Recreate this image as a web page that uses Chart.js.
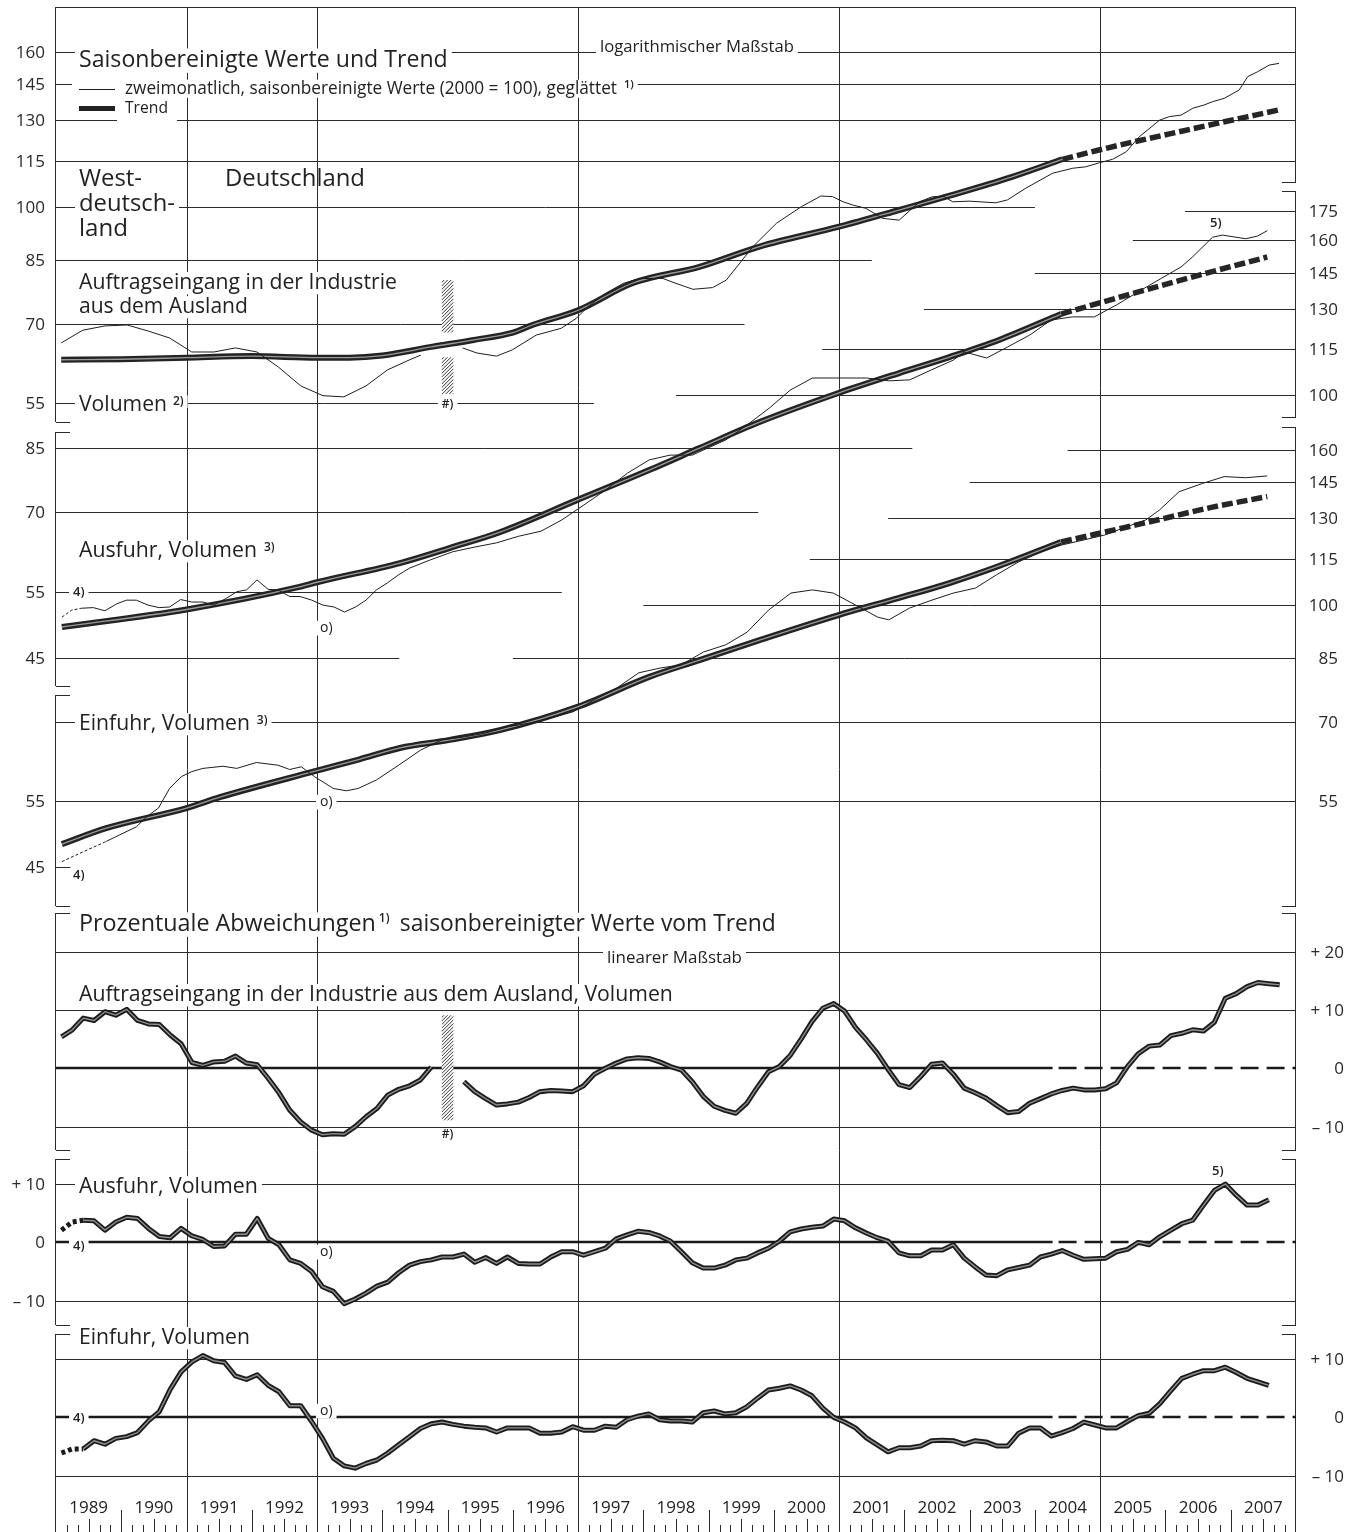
<!DOCTYPE html>
<html>
<head>
<meta charset="utf-8">
<script src="https://cdn.jsdelivr.net/npm/chart.js@4.4.1/dist/chart.umd.min.js"></script>
<style>
  html, body { margin: 0; padding: 0; background: #fff; }
  #wrap { width: 1363px; height: 1532px; }
</style>
</head>
<body>
<div id="wrap"><canvas id="c" width="1363" height="1532"></canvas></div>
<script>
// ---- data ----
// bi-monthly values, first point = Jan/Feb 1989
const ordersDev = [5.4, 6.6, 8.6, 8.2, 9.7, 9.1, 10.1, 8.2, 7.6, 7.5, 5.7, 4.2, 1.0, 0.5, 1.1, 1.2, 2.1, 0.9, 0.6, -1.7,
  -4.2, -7.2, -9.2, -10.6, -11.4, -11.2, -11.3, -10.0, -8.3, -6.9, -4.6, -3.6, -3.0, -2.0, 0.2, null, null, -2.3, -4.0, -5.2,
  -6.3, -6.1, -5.8, -5.0, -4.0, -3.8, -3.9, -4.0, -3.0, -1.0, 0.0, 0.9, 1.6, 1.8, 1.7, 1.1, 0.3, -0.3, -2.3, -4.8,
  -6.5, -7.2, -7.7, -6.0, -3.2, -0.6, 0.3, 2.2, 5.0, 8.0, 10.3, 11.1, 9.8, 7.0, 4.9, 2.6, -0.2, -2.8, -3.3, -1.4,
  0.7, 0.9, -1.0, -3.4, -4.2, -5.1, -6.4, -7.6, -7.4, -6.0, -5.2, -4.4, -3.8, -3.4, -3.7, -3.7, -3.5, -2.5, 0.3, 2.5,
  3.8, 4.0, 5.6, 6.0, 6.6, 6.4, 7.9, 12.0, 12.8, 14.0, 14.7, 14.5, 14.3];
const exportsDev = [2.1, 3.5, 3.8, 3.7, 2.1, 3.5, 4.3, 4.1, 2.4, 1.0, 0.8, 2.4, 1.1, 0.5, -0.7, -0.6, 1.4, 1.4, 4.1, 0.7,
  -0.4, -3.0, -3.6, -5.0, -7.6, -8.4, -10.5, -9.7, -8.7, -7.5, -6.8, -5.2, -3.9, -3.3, -3.0, -2.5, -2.5, -2.0, -3.4, -2.6,
  -3.6, -2.5, -3.6, -3.7, -3.7, -2.5, -1.6, -1.6, -2.2, -1.6, -1.0, 0.6, 1.3, 1.9, 1.7, 1.1, 0.2, -1.6, -3.5, -4.4,
  -4.4, -3.9, -3.0, -2.7, -1.8, -1.0, 0.2, 1.8, 2.3, 2.6, 2.8, 4.0, 3.7, 2.5, 1.6, 0.8, 0.2, -1.8, -2.3, -2.3,
  -1.3, -1.3, -0.4, -2.7, -4.2, -5.6, -5.7, -4.7, -4.3, -3.9, -2.5, -2.0, -1.4, -2.2, -2.9, -2.8, -2.7, -1.6, -1.2, 0.0,
  -0.4, 1.0, 2.1, 3.2, 3.8, 6.4, 8.9, 10.0, 8.1, 6.4, 6.4, 7.3];
const importsDev = [-6.1, -5.4, -5.4, -4.0, -4.6, -3.6, -3.3, -2.6, -0.6, 1.0, 4.8, 7.8, 9.5, 10.6, 9.7, 9.4, 7.1, 6.5, 7.3, 5.5,
  4.4, 2.0, 2.0, -0.7, -3.6, -7.0, -8.3, -8.7, -7.9, -7.3, -6.1, -4.7, -3.3, -1.9, -1.1, -0.8, -1.2, -1.5, -1.7, -1.8,
  -2.5, -1.8, -1.8, -1.8, -2.7, -2.7, -2.5, -1.6, -2.2, -2.2, -1.5, -1.7, -0.4, 0.2, 0.6, -0.4, -0.6, -0.6, -0.8, 0.8,
  1.1, 0.6, 0.8, 1.8, 3.3, 4.7, 5.0, 5.4, 4.7, 3.7, 1.6, 0.0, -0.8, -1.8, -3.5, -4.7, -5.9, -5.2, -5.2, -4.9,
  -4.0, -3.9, -4.0, -4.6, -4.0, -4.2, -4.9, -4.9, -2.7, -1.8, -1.8, -3.2, -2.6, -1.9, -0.8, -1.3, -1.8, -1.8, -0.7, 0.3,
  0.7, 2.4, 4.6, 6.7, 7.4, 8.0, 8.0, 8.6, 7.7, 6.7, 6.1, 5.5];

// seasonally adjusted levels (2000 = 100), read at the line's corners
const ordersRawYears = [1989.08, 1989.41, 1989.75, 1990.09, 1990.42, 1990.74, 1991.08, 1991.42, 1991.75, 1992.08, 1992.41, 1992.75,
  1993.09, 1993.41, 1993.75, 1994.08, 1994.42, 1994.59, 1994.9, 1995.23, 1995.45, 1995.75, 1995.99, 1996.36, 1996.74, 1996.97,
  1997.15, 1997.43, 1997.69, 1997.94, 1998.30, 1998.50, 1998.76, 1999.06, 1999.27, 1999.68, 2000.04, 2000.42, 2000.72, 2000.90,
  2001.06, 2001.21, 2001.41, 2001.67, 2001.92, 2002.23, 2002.43, 2002.61, 2002.74, 2002.99, 2003.40, 2003.58, 2003.86, 2004.27,
  2004.58, 2004.78, 2004.99, 2005.19, 2005.40, 2005.60, 2005.91, 2006.06, 2006.24, 2006.42, 2006.59, 2006.72, 2006.90, 2007.13,
  2007.26, 2007.41, 2007.59, 2007.74];
const ordersRawValues = [66.1, 68.7, 69.6, 69.8, 68.5, 67.1, 64.3, 64.3, 65.1, 64.3, 61.4, 58.0,
  56.3, 56.1, 58.0, 60.9, 62.8, 63.7, null, 65.1, 64.1, 63.5, 64.7, 67.7, 69.1, 71.2,
  73.8, 76.9, 79.2, 80.4, 80.4, 79.2, 77.8, 78.2, 80.0, 88.6, 95.1, 100.0, 103.3, 103.1,
  101.5, 100.5, 99.5, 96.5, 96.0, 101.5, 103.1, 103.1, 101.5, 101.7, 101.2, 102.1, 105.8, 110.7,
  112.4, 112.9, 114.3, 115.5, 118.2, 123.7, 130.1, 131.5, 132.1, 134.9, 136.2, 137.6, 139.0, 142.6,
  148.5, 150.7, 153.8, 154.6];

const exportsRawYears = [1989.09, 1989.24, 1989.39, 1989.57, 1989.75, 1989.93, 1990.08, 1990.23, 1990.41, 1990.58, 1990.74, 1990.91,
  1991.08, 1991.25, 1991.41, 1991.61, 1991.77, 1991.92, 1992.08, 1992.25, 1992.40, 1992.58, 1992.74, 1992.92, 1993.09, 1993.26,
  1993.42, 1993.59, 1993.75, 1993.91, 1994.08, 1994.25, 1994.42, 1994.74, 1995.08, 1995.42, 1995.75, 1996.09, 1996.43, 1996.75,
  1997.09, 1997.42, 1997.76, 1998.09, 1998.41, 1998.75, 1998.92, 1999.26, 1999.59, 1999.93, 2000.25, 2000.59, 2000.91, 2001.42,
  2001.76, 2002.08, 2002.41, 2002.75, 2002.92, 2003.26, 2003.58, 2003.92, 2004.25, 2004.57, 2004.91, 2005.25, 2005.58, 2005.92,
  2006.24, 2006.42, 2006.72, 2006.87, 2007.23, 2007.41, 2007.56];
const exportsRawValues = [50.9, 52.0, 52.3, 52.4, 51.9, 53.0, 53.6, 53.6, 52.8, 52.4, 52.5, 53.7,
  53.3, 53.3, 52.8, 53.9, 55.0, 55.3, 57.0, 55.4, 55.3, 54.2, 54.2, 53.6, 52.8, 52.5,
  51.7, 52.5, 53.6, 55.3, 56.5, 57.9, 59.1, 60.6, 62.1, 63.0, 63.8, 65.1, 66.1, 68.4,
  71.6, 74.9, 78.9, 82.1, 83.3, 83.3, 84.6, 87.2, 91.3, 96.1, 101.5, 105.3, 105.3, 105.3,
  104.4, 104.7, 107.9, 111.2, 114.0, 111.9, 115.7, 120.0, 125.6, 126.8, 126.8, 131.5, 136.8, 142.3,
  147.6, 152.3, 161.5, 162.6, 160.8, 162.1, 164.8];

const importsRawYears = [1989.09, 1989.42, 1989.77, 1989.98, 1990.23, 1990.39, 1990.57, 1990.74, 1990.92, 1991.08, 1991.25, 1991.56,
  1991.77, 1992.07, 1992.40, 1992.58, 1992.76, 1992.96, 1993.25, 1993.45, 1993.63, 1993.91, 1994.25, 1994.59, 1994.91, 1995.25,
  1995.58, 1995.92, 1996.26, 1996.58, 1996.92, 1997.25, 1997.59, 1997.93, 1998.26, 1998.58, 1998.92, 1999.26, 1999.59, 1999.92,
  2000.26, 2000.59, 2000.91, 2001.25, 2001.59, 2001.76, 2002.08, 2002.42, 2002.75, 2003.09, 2003.41, 2003.75, 2004.08, 2004.41,
  2004.74, 2005.07, 2005.39, 2005.70, 2005.91, 2006.21, 2006.57, 2006.90, 2007.23, 2007.56];
const importsRawValues = [45.8, 47.2, 48.7, 49.7, 50.9, 52.5, 53.9, 57.2, 59.3, 60.2, 60.8, 61.2,
  60.8, 61.9, 61.4, 60.6, 61.1, 59.3, 57.2, 56.8, 57.2, 58.7, 61.4, 64.3, 66.3, 66.9,
  67.7, 69.0, 69.8, 70.9, 72.2, 74.9, 77.6, 81.3, 82.5, 83.3, 86.6, 88.5, 92.0, 98.4,
  103.6, 104.6, 103.6, 99.9, 96.3, 95.5, 99.0, 101.4, 103.6, 105.2, 109.5, 113.9, 117.4, 119.9,
  121.7, 123.6, 126.6, 129.4, 133.4, 141.0, 144.6, 147.6, 147.1, 147.9];

// trend lines (solid part, then the extrapolated dashed part)
const ordersTrendYears = [1989.08, 1990.0, 1991.0, 1992.0, 1993.0, 1993.5, 1994.0, 1994.75, 1995.4, 1996.0, 1996.3, 1997.0,
  1997.84, 1998.86, 1999.78, 2001.0, 2001.92, 2002.64, 2003.65, 2004.42];
const ordersTrendValues = [62.8, 62.9, 63.2, 63.5, 63.2, 63.2, 63.6, 65.3, 66.7, 68.2, 69.8, 73.0,
  79.3, 83.3, 88.6, 94.1, 99.0, 103.1, 109.5, 115.5];
const ordersTrendExtYears = [2004.42, 2004.98, 2006.21, 2007.74];
const ordersTrendExtValues = [115.5, 118.8, 125.6, 134.2];

const exportsTrendYears = [1989.09, 1991.0, 1992.73, 1993.0, 1994.27, 1995.03, 1995.80, 1996.99, 1998.09, 1998.86, 1999.78,
  2000.99, 2001.92, 2002.69, 2003.45, 2004.40];
const exportsTrendValues = [49.4, 52.1, 55.8, 56.6, 60.0, 62.8, 65.9, 72.7, 79.6, 85.1, 92.1,
  100.6, 106.9, 112.2, 118.2, 127.9];
const exportsTrendExtYears = [2004.40, 2004.99, 2006.52, 2007.56];
const exportsTrendExtValues = [127.9, 132.3, 144.0, 152.1];

const importsTrendYears = [1989.09, 1989.77, 1991.0, 1991.51, 1992.94, 1993.65, 1994.27, 1995.03, 1995.80, 1996.99, 1998.09,
  1998.86, 1999.78, 2000.99, 2001.92, 2002.69, 2003.45, 2004.40];
const importsTrendValues = [48.3, 50.7, 53.9, 55.7, 60.2, 62.5, 64.7, 66.3, 68.3, 73.3, 80.3,
  84.5, 89.8, 96.9, 102.1, 106.8, 112.5, 121.0];
const importsTrendExtYears = [2004.40, 2005.70, 2006.72, 2007.56];
const importsTrendExtValues = [121.0, 128.3, 134.5, 138.9];

// tick labels
const ordersTicksLeft = [160, 145, 130, 115, 100, 85, 70, 55];
const exportsTicksLeft = [85, 70, 55, 45];
const exportsTicksRight = [175, 160, 145, 130, 115, 100];
const importsTicksLeft = [55, 45];
const importsTicksRight = [160, 145, 130, 115, 100, 85, 70, 55];
const ordersDevTicks = [20, 10, 0, -10];
const exportsDevTicks = [10, 0, -10];
const importsDevTicks = [10, 0, -10];
const years = [1989, 1990, 1991, 1992, 1993, 1994, 1995, 1996, 1997, 1998, 1999, 2000, 2001, 2002, 2003, 2004, 2005, 2006, 2007];
const markerYears = [1991, 1993, 1997, 2001, 2005];

// ---- geometry ----
const W = 1363, H = 1532;
const AREA = { left: 56, right: 1296, top: 7, bottom: 1476 };
const PX_PER_LN = 329;      // log panels
const PX_PER_PCT = 5.835;   // deviation panels
const FONT = '"Open Sans", "DejaVu Sans", sans-serif';
const INK = '#1e1e1e';

function logBounds(px100) {
  const span = (AREA.bottom - AREA.top) / PX_PER_LN;
  const max = 100 * Math.exp((px100 - AREA.top) / PX_PER_LN);
  return { min: max * Math.exp(-span), max: max };
}
function linBounds(px0) {
  const span = (AREA.bottom - AREA.top) / PX_PER_PCT;
  const max = (px0 - AREA.top) / PX_PER_PCT;
  return { min: max - span, max: max };
}

function periodSeries(vals) {
  return vals.map((v, i) => ({ x: 1989 + (2 * i + 1) / 12, y: v }));
}
function pairs(xs, ys) {
  return xs.map((x, i) => ({ x: x, y: ys[i] }));
}

// ---- datasets ----
function thinLine(data, axis, dotted) {
  return {
    data: data, yAxisID: axis, borderColor: INK, borderWidth: 1, pointRadius: 0,
    spanGaps: false, order: 0, tension: 0,
    segment: { borderDash: c => (dotted && c.p1DataIndex <= 2 ? [3, 2] : undefined) }
  };
}
function heavyOuter(data, axis, dotted) {
  return {
    data: data, yAxisID: axis, borderColor: '#1b1b1b', borderWidth: 5, pointRadius: 0,
    spanGaps: false, order: 3, tension: 0, borderJoinStyle: 'round', borderCapStyle: 'butt',
    segment: { borderDash: c => (dotted && c.p1DataIndex <= 2 ? [4, 3] : undefined) }
  };
}
function heavyInner(data, axis, dotted) {
  return {
    data: data, yAxisID: axis, borderColor: '#8e8e8e', borderWidth: 1.4, pointRadius: 0,
    spanGaps: false, order: 2, tension: 0, borderJoinStyle: 'round',
    segment: { borderColor: c => (dotted && c.p1DataIndex <= 2 ? 'rgba(0,0,0,0)' : undefined) }
  };
}
function trendOuter(data, axis) {
  return {
    data: data, yAxisID: axis, borderColor: '#232323', borderWidth: 6, pointRadius: 0,
    cubicInterpolationMode: 'monotone', order: 5, borderCapStyle: 'butt'
  };
}
function trendInner(data, axis) {
  return {
    data: data, yAxisID: axis, borderColor: '#9a9a9a', borderWidth: 1.3, pointRadius: 0,
    cubicInterpolationMode: 'monotone', order: 4
  };
}
function trendDashed(data, axis) {
  return {
    data: data, yAxisID: axis, borderColor: '#262626', borderWidth: 5.5, pointRadius: 0,
    cubicInterpolationMode: 'monotone', order: 4, borderDash: [11, 4], borderCapStyle: 'butt'
  };
}

const datasets = [
  thinLine(pairs(ordersRawYears, ordersRawValues), 'yOrd', false),
  thinLine(pairs(exportsRawYears, exportsRawValues), 'yExp', true),
  thinLine(pairs(importsRawYears, importsRawValues), 'yImp', true),
  trendOuter(pairs(ordersTrendYears, ordersTrendValues), 'yOrd'),
  trendInner(pairs(ordersTrendYears, ordersTrendValues), 'yOrd'),
  trendDashed(pairs(ordersTrendExtYears, ordersTrendExtValues), 'yOrd'),
  trendOuter(pairs(exportsTrendYears, exportsTrendValues), 'yExp'),
  trendInner(pairs(exportsTrendYears, exportsTrendValues), 'yExp'),
  trendDashed(pairs(exportsTrendExtYears, exportsTrendExtValues), 'yExp'),
  trendOuter(pairs(importsTrendYears, importsTrendValues), 'yImp'),
  trendInner(pairs(importsTrendYears, importsTrendValues), 'yImp'),
  trendDashed(pairs(importsTrendExtYears, importsTrendExtValues), 'yImp'),
  heavyOuter(periodSeries(ordersDev), 'yDevOrd', false),
  heavyInner(periodSeries(ordersDev), 'yDevOrd', false),
  heavyOuter(periodSeries(exportsDev), 'yDevExp', true),
  heavyInner(periodSeries(exportsDev), 'yDevExp', true),
  heavyOuter(periodSeries(importsDev), 'yDevImp', true),
  heavyInner(periodSeries(importsDev), 'yDevImp', true)
];

// ---- drawing helpers ----
function text(ctx, s, x, y, o) {
  o = o || {};
  const weight = o.bold ? '600 ' : '';
  let size = o.size || 17;
  ctx.font = weight + size + 'px ' + FONT;
  if (o.w) {
    size = size * o.w / ctx.measureText(s).width;
    ctx.font = weight + size.toFixed(2) + 'px ' + FONT;
  }
  const w = ctx.measureText(s).width;
  let left = x;
  if (o.align === 'right') left = x - w;
  else if (o.align === 'center') left = x - w / 2;
  if (o.bg) {
    ctx.fillStyle = '#fff';
    ctx.fillRect(left - 4, y - size * 0.8, w + 8, size * 1.05);
  }
  ctx.fillStyle = o.color || '#222';
  ctx.textAlign = 'left';
  ctx.textBaseline = 'alphabetic';
  ctx.fillText(s, left, y);
  return left + w;
}
function hline(ctx, x0, x1, y, lw) {
  const yy = Math.round(y) + ((lw || 1) % 2 ? 0.5 : 0);
  ctx.beginPath(); ctx.moveTo(x0, yy); ctx.lineTo(x1, yy); ctx.stroke();
}
function vline(ctx, x, y0, y1) {
  const xx = Math.round(x) + 0.5;
  ctx.beginPath(); ctx.moveTo(xx, y0); ctx.lineTo(xx, y1); ctx.stroke();
}
function hatch(ctx, x0, x1, y0, y1) {
  ctx.save();
  ctx.beginPath(); ctx.rect(x0, y0, x1 - x0, y1 - y0); ctx.clip();
  ctx.fillStyle = '#fff'; ctx.fillRect(x0, y0, x1 - x0, y1 - y0);
  ctx.strokeStyle = '#333'; ctx.lineWidth = 1;
  for (let yy = y0 - 20; yy < y1 + 20; yy += 3.5) {
    ctx.beginPath(); ctx.moveTo(x0, yy + (x1 - x0)); ctx.lineTo(x1, yy); ctx.stroke();
  }
  ctx.restore();
}
function fmtDev(v) {
  if (v > 0) return '+ ' + v;
  if (v < 0) return '\u2013 ' + (-v);
  return '0';
}

// partial horizontal grid lines: [axis, value, fromYear, toYear]
const logGrid = [
  ['yOrd', 160, 1989, 2008], ['yOrd', 145, 1989, 2008], ['yOrd', 130, 1989, 2008], ['yOrd', 115, 1989, 2008],
  ['yOrd', 100, 1989, 2004.0], ['yOrd', 85, 1989, 2001.5], ['yOrd', 70, 1989, 1999.55], ['yOrd', 55, 1989, 1997.24],
  ['yExp', 175, 2006.3, 2008], ['yExp', 160, 2005.5, 2008], ['yExp', 145, 2004.0, 2008], ['yExp', 130, 2002.3, 2008],
  ['yExp', 115, 2000.74, 2008], ['yExp', 100, 1998.5, 2008],
  ['yExp', 85, 1989, 2002.12], ['yExp', 70, 1989, 1999.76], ['yExp', 55, 1989, 1996.75], ['yExp', 45, 1989, 1994.26],
  ['yImp', 160, 2004.5, 2008], ['yImp', 145, 2003.0, 2008], ['yImp', 130, 2001.75, 2008], ['yImp', 115, 2000.55, 2008],
  ['yImp', 100, 1998.0, 2008], ['yImp', 85, 1996.0, 2008], ['yImp', 70, 1989, 2008], ['yImp', 55, 1989, 2008],
  ['yImp', 45, 1989, 1989.22]
];
const frameLeft = [[7, 422], [432, 686], [695, 906], [913, 1150], [1159, 1325], [1334, 1476]];
const frameRight = [[7, 182], [191, 417], [427, 906], [913, 1150], [1159, 1325], [1334, 1476]];

const decor = {
  id: 'decor',
  beforeDatasetsDraw(chart) {
    const ctx = chart.ctx;
    const sx = chart.scales.x;
    const X = t => sx.getPixelForValue(t);
    const Y = (axis, v) => chart.scales[axis].getPixelForValue(v);
    ctx.save();
    ctx.strokeStyle = '#2b2b2b';
    ctx.lineWidth = 1;

    // vertical marker lines
    markerYears.forEach(yr => vline(ctx, X(yr), AREA.top, H));
    vline(ctx, AREA.left - 1, AREA.bottom, H);
    vline(ctx, AREA.right - 1, AREA.bottom, H);

    // frame
    hline(ctx, AREA.left, AREA.right, AREA.top);
    frameLeft.forEach(([a, b]) => {
      vline(ctx, AREA.left - 1, a, b);
      if (a > AREA.top) hline(ctx, AREA.left, AREA.left + 14, a);
      if (b < AREA.bottom) hline(ctx, AREA.left, AREA.left + 14, b);
    });
    frameRight.forEach(([a, b]) => {
      vline(ctx, AREA.right - 1, a, b);
      if (a > AREA.top) hline(ctx, AREA.right - 14, AREA.right, a);
      if (b < AREA.bottom) hline(ctx, AREA.right - 14, AREA.right, b);
    });

    // log grid
    logGrid.forEach(([ax, v, a, b]) => hline(ctx, X(a), X(b), Y(ax, v)));

    // deviation grids
    [['yDevOrd', [20, 10, -10]], ['yDevExp', [10, -10]], ['yDevImp', [10, -10]]].forEach(([ax, vals]) => {
      vals.forEach(v => hline(ctx, AREA.left, AREA.right, Y(ax, v)));
    });
    // zero lines: solid, dashed from mid 2004
    ctx.lineWidth = 2.4;
    ctx.strokeStyle = '#1a1a1a';
    ['yDevOrd', 'yDevExp', 'yDevImp'].forEach(ax => {
      const y = Math.round(Y(ax, 0));
      ctx.setLineDash([]);
      ctx.beginPath(); ctx.moveTo(AREA.left, y); ctx.lineTo(X(2004.27), y); ctx.stroke();
      ctx.setLineDash([18, 8]);
      ctx.beginPath(); ctx.moveTo(X(2004.27) + 6, y); ctx.lineTo(AREA.right, y); ctx.stroke();
    });
    ctx.setLineDash([]);
    ctx.lineWidth = 1;
    ctx.strokeStyle = '#2b2b2b';
    hline(ctx, AREA.left, AREA.right, AREA.bottom);

    // break markers (#)
    const hx0 = X(1995.0) - 6, hx1 = X(1995.0) + 6;
    hatch(ctx, hx0, hx1, Y('yOrd', 80.0), Y('yOrd', 68.2));
    hatch(ctx, hx0, hx1, Y('yOrd', 63.3), Y('yOrd', 56.6));
    hatch(ctx, hx0, hx1, Y('yDevOrd', 9.1), Y('yDevOrd', -8.9));

    // axis labels
    const lab = { size: 17, color: '#2a2a2a' };
    const leftX = 45, rightX = 1338, rightDevX = 1344;
    ordersTicksLeft.forEach(v => text(ctx, String(v), leftX, Y('yOrd', v) + 6, Object.assign({ align: 'right' }, lab)));
    exportsTicksLeft.forEach(v => text(ctx, String(v), leftX, Y('yExp', v) + 6, Object.assign({ align: 'right' }, lab)));
    importsTicksLeft.forEach(v => text(ctx, String(v), leftX, Y('yImp', v) + 6, Object.assign({ align: 'right' }, lab)));
    exportsTicksRight.forEach(v => text(ctx, String(v), rightX, Y('yExp', v) + 6, Object.assign({ align: 'right' }, lab)));
    importsTicksRight.forEach(v => text(ctx, String(v), rightX, Y('yImp', v) + 6, Object.assign({ align: 'right' }, lab)));
    ordersDevTicks.forEach(v => text(ctx, fmtDev(v), rightDevX, Y('yDevOrd', v) + 6, Object.assign({ align: 'right' }, lab)));
    exportsDevTicks.forEach(v => text(ctx, fmtDev(v), leftX, Y('yDevExp', v) + 6, Object.assign({ align: 'right' }, lab)));
    importsDevTicks.forEach(v => text(ctx, fmtDev(v), rightDevX, Y('yDevImp', v) + 6, Object.assign({ align: 'right' }, lab)));

    // legend area: gridlines are cleared behind the key
    ctx.fillStyle = '#fff';
    ctx.fillRect(72, 80, 52, 36);
    ctx.fillRect(117, 116, 60, 9);

    // panel texts
    const T = (s, x, y, o) => text(ctx, s, x, y, Object.assign({ bg: true }, o));
    T('Saisonbereinigte Werte und Trend', 79, 67, { size: 22, w: 369 });
    T('logarithmischer Maßstab', 600, 52, { size: 16, w: 194 });
    let e = T('zweimonatlich, saisonbereinigte Werte (2000 = 100), geglättet', 125, 93.5, { size: 15, w: 492 });
    T('1)', e + 7, 88, { size: 11, bold: true });
    T('Trend', 125, 113, { size: 15, w: 43 });
    T('West-', 79, 186, { size: 23, w: 63 });
    T('deutsch-', 79, 211, { size: 23, w: 96 });
    T('land', 79, 236, { size: 23, w: 49 });
    T('Deutschland', 225, 186, { size: 23, w: 140, bg: false });
    T('Auftragseingang in der Industrie', 79, 289, { size: 21, w: 318 });
    T('aus dem Ausland', 79, 313, { size: 21, w: 169 });
    e = T('Volumen', 79, 411, { size: 21, w: 88 });
    T('2)', e + 6, 405, { size: 12, bold: true });
    T('#)', X(1995.0), 408, { size: 12, bold: true, align: 'center' });
    e = T('Ausfuhr, Volumen', 79, 557, { size: 21, w: 178 });
    T('3)', e + 7, 551, { size: 12, bold: true });
    T('4)', 73, 596, { size: 13, bold: true });
    T('o)', 320, 632, { size: 14 });
    e = T('Einfuhr, Volumen', 79, 730, { size: 21, w: 171 });
    T('3)', e + 7, 724, { size: 12, bold: true });
    T('o)', 320, 806, { size: 14 });
    T('4)', 73, 879, { size: 13, bold: true });
    T('5)', 1210, 227, { size: 13, bold: true });
    e = T('Prozentuale Abweichungen', 79, 931, { size: 22, w: 297 });
    T('saisonbereinigter Werte vom Trend', e + 24, 931, { size: 22, w: 376 });
    T('1)', e + 3, 922, { size: 12, bold: true, bg: false });
    T('linearer Maßstab', 607, 963, { size: 16, w: 135 });
    T('Auftragseingang in der Industrie aus dem Ausland, Volumen', 79, 1001, { size: 21, w: 594 });
    T('#)', X(1995.0), 1138, { size: 12, bold: true, align: 'center' });
    T('Ausfuhr, Volumen', 79, 1193, { size: 21, w: 179 });
    T('4)', 73, 1250, { size: 13, bold: true });
    T('o)', 320, 1256, { size: 14 });
    T('5)', 1212, 1175, { size: 13, bold: true });
    T('Einfuhr, Volumen', 79, 1344, { size: 21, w: 171 });
    T('4)', 73, 1422, { size: 13, bold: true });
    T('o)', 320, 1415, { size: 14 });

    // legend samples
    ctx.strokeStyle = INK; ctx.lineWidth = 1;
    hline(ctx, 79, 115, 89);
    ctx.lineWidth = 5; ctx.strokeStyle = '#222';
    hline(ctx, 79, 115, 107.5, 5);

    // time axis
    ctx.lineWidth = 1; ctx.strokeStyle = '#2b2b2b';
    years.forEach(yr => {
      text(ctx, String(yr), X(yr + 0.5), 1513, { size: 17, align: 'center', color: '#222' });
      for (let k = 1; k < 6; k++) {
        const top = k === 3 ? 1519 : 1525;
        vline(ctx, X(yr + k / 6), top, H);
      }
      if (markerYears.indexOf(yr) < 0 && yr !== 1989) vline(ctx, X(yr), 1510, H);
    });
    ctx.restore();
  }
};

const lb = {
  yOrd: logBounds(206.7), yExp: logBounds(395), yImp: logBounds(604.7),
  yDevOrd: linBounds(1068.3), yDevExp: linBounds(1242.4), yDevImp: linBounds(1417.4)
};

new Chart(document.getElementById('c'), {
  type: 'line',
  data: { datasets: datasets },
  options: {
    responsive: false,
    animation: false,
    devicePixelRatio: 1,
    layout: { padding: { left: AREA.left, right: W - AREA.right, top: AREA.top, bottom: H - AREA.bottom } },
    plugins: { legend: { display: false }, tooltip: { enabled: false }, title: { display: false } },
    elements: { point: { radius: 0 } },
    scales: {
      x: { type: 'linear', min: 1989, max: 2008, display: false, bounds: 'data' },
      yOrd: { type: 'logarithmic', min: lb.yOrd.min, max: lb.yOrd.max, display: false, bounds: 'data' },
      yExp: { type: 'logarithmic', min: lb.yExp.min, max: lb.yExp.max, display: false, bounds: 'data' },
      yImp: { type: 'logarithmic', min: lb.yImp.min, max: lb.yImp.max, display: false, bounds: 'data' },
      yDevOrd: { type: 'linear', min: lb.yDevOrd.min, max: lb.yDevOrd.max, display: false, bounds: 'data' },
      yDevExp: { type: 'linear', min: lb.yDevExp.min, max: lb.yDevExp.max, display: false, bounds: 'data' },
      yDevImp: { type: 'linear', min: lb.yDevImp.min, max: lb.yDevImp.max, display: false, bounds: 'data' }
    }
  },
  plugins: [decor]
});
</script>
</body>
</html>
